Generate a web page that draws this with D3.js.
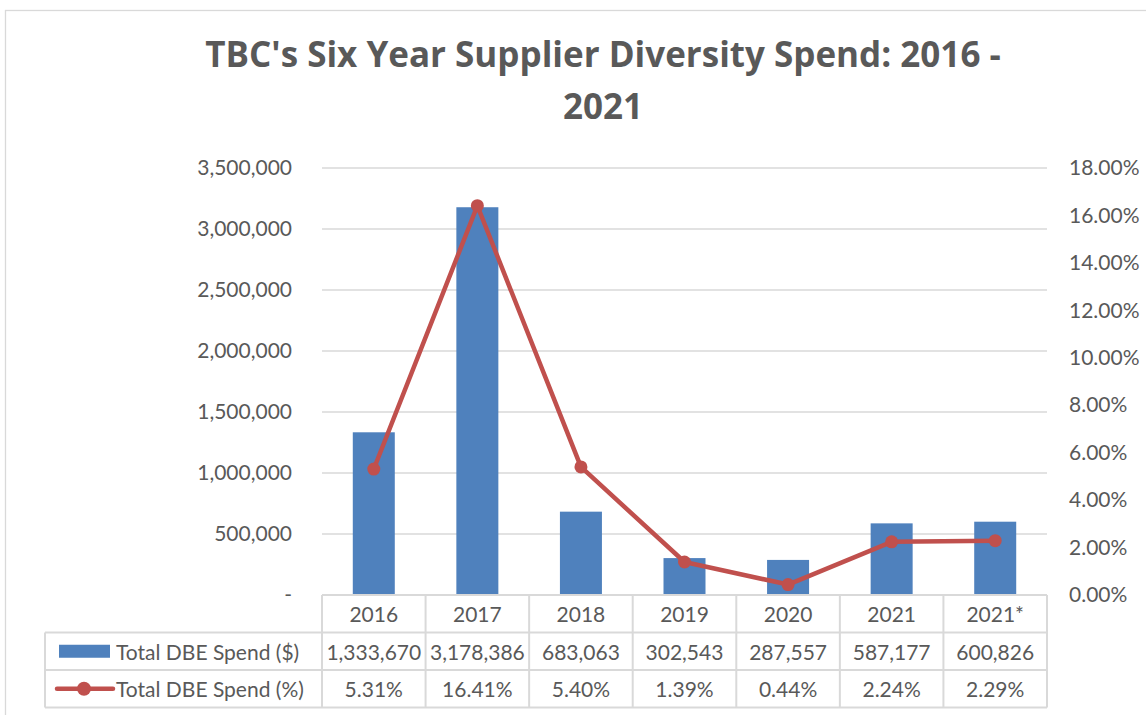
<!DOCTYPE html>
<html><head><meta charset="utf-8">
<script src="https://cdn.jsdelivr.net/npm/d3@7"></script>
<style>body{margin:0;background:#fff;} svg{display:block;}</style>
</head><body>
<svg id="chart" width="1146" height="715"></svg>
<script>
const categories = ["2016","2017","2018","2019","2020","2021","2021*"];
const spendDollars = [1333670,3178386,683063,302543,287557,587177,600826];
const spendPct = [5.31,16.41,5.40,1.39,0.44,2.24,2.29];
const leftTicks = [0,500000,1000000,1500000,2000000,2500000,3000000,3500000];
const rightTicks = [0,2,4,6,8,10,12,14,16,18];
const seriesNames = ["Total DBE Spend ($)","Total DBE Spend (%)"];
const titleLines = ["TBC's Six Year Supplier Diversity Spend: 2016 -","2021"];

const svg = d3.select("#chart");
const font = "Lato, 'Open Sans', sans-serif";
const titleFont = "'Open Sans', Lato, sans-serif";
const fs = 21;
const textCol = "#595959";
const gridCol = "#d9d9d9";
const barCol = "#4F81BD";
const lineCol = "#C0504D";

// outer border
svg.append("rect").attr("x",5.5).attr("y",10.5).attr("width",1150).attr("height",720)
  .attr("fill","none").attr("stroke",gridCol).attr("stroke-width",1.3);

const x0 = 322, x1 = 1047, yTop = 168, yBase = 595;
const x = d3.scaleBand().domain(categories).range([x0,x1]).paddingInner(0).paddingOuter(0);
const yL = d3.scaleLinear().domain([0,3500000]).range([yBase,yTop]);
const yR = d3.scaleLinear().domain([0,18]).range([yBase,yTop]);

// title
svg.append("g").selectAll("text").data(titleLines).join("text")
  .attr("x",603).attr("y",(d,i)=>67+i*52)
  .attr("text-anchor","middle").attr("font-family",titleFont).attr("font-weight","bold")
  .attr("font-size",35).attr("fill",textCol).text(d=>d);

// gridlines
svg.append("g").selectAll("line").data(leftTicks.filter(d=>d>0)).join("line")
  .attr("x1",x0).attr("x2",x1).attr("y1",d=>yL(d)).attr("y2",d=>yL(d))
  .attr("stroke",gridCol).attr("stroke-width",1.3);

// left axis
const fmtL = d3.format(",");
const axL = d3.axisLeft(yL).tickValues(leftTicks).tickSize(0).tickPadding(30)
  .tickFormat(d=> d===0 ? "-" : fmtL(d));
const gL = svg.append("g").attr("transform",`translate(${x0},0)`).call(axL);
gL.select(".domain").remove();
gL.selectAll("text").attr("font-family",font).attr("font-size",fs).attr("fill",textCol);

// right axis
const axR = d3.axisRight(yR).tickValues(rightTicks).tickSize(0).tickPadding(22)
  .tickFormat(d=> d3.format(".2f")(d)+"%");
const gR = svg.append("g").attr("transform",`translate(${x1},0)`).call(axR);
gR.select(".domain").remove();
gR.selectAll("text").attr("font-family",font).attr("font-size",fs).attr("fill",textCol);

// bars
const bw = 42;
svg.append("g").selectAll("rect").data(categories).join("rect")
  .attr("x",d=>x(d)+x.bandwidth()/2-bw/2).attr("width",bw)
  .attr("y",(d,i)=>yL(spendDollars[i])).attr("height",(d,i)=>yBase-yL(spendDollars[i]))
  .attr("fill",barCol);

// line
const line = d3.line().x((d,i)=>x(categories[i])+x.bandwidth()/2).y(d=>yR(d));
svg.append("path").datum(spendPct).attr("d",line).attr("fill","none")
  .attr("stroke",lineCol).attr("stroke-width",4.5).attr("stroke-linejoin","round");
svg.append("g").selectAll("circle").data(spendPct).join("circle")
  .attr("cx",(d,i)=>x(categories[i])+x.bandwidth()/2).attr("cy",d=>yR(d)).attr("r",6.5)
  .attr("fill",lineCol);

// data table
const rowH = 37.5;
const tLeft = 45;
const tg = svg.append("g");
const rows = [yBase, yBase+rowH, yBase+2*rowH, yBase+3*rowH];
tg.append("line").attr("x1",x0).attr("x2",x1).attr("y1",rows[0]).attr("y2",rows[0]).attr("stroke",gridCol).attr("stroke-width",2);
[rows[1],rows[2],rows[3]].forEach(yy=>{
  tg.append("line").attr("x1",tLeft).attr("x2",x1).attr("y1",yy).attr("y2",yy).attr("stroke",gridCol).attr("stroke-width",2);
});
const vx = categories.map(c=>x(c)).concat([x1]);
vx.forEach(xx=>{
  tg.append("line").attr("x1",xx).attr("x2",xx).attr("y1",rows[0]).attr("y2",rows[3]).attr("stroke",gridCol).attr("stroke-width",2);
});
tg.append("line").attr("x1",tLeft).attr("x2",tLeft).attr("y1",rows[1]).attr("y2",rows[3]).attr("stroke",gridCol).attr("stroke-width",2);

const cellText = (txt,cx,cy)=> tg.append("text").attr("x",cx).attr("y",cy).attr("text-anchor","middle")
  .attr("dominant-baseline","central").attr("font-family",font).attr("font-size",fs).attr("fill",textCol).text(txt);
categories.forEach((c,i)=>{
  const cx = x(c)+x.bandwidth()/2;
  cellText(c,cx,rows[0]+rowH/2);
  cellText(fmtL(spendDollars[i]),cx,rows[1]+rowH/2);
  cellText(spendPct[i].toFixed(2)+"%",cx,rows[2]+rowH/2);
});
// legend keys
tg.append("rect").attr("x",59).attr("y",rows[1]+rowH/2-6.5).attr("width",51).attr("height",13).attr("fill",barCol);
tg.append("line").attr("x1",57).attr("x2",113).attr("y1",rows[2]+rowH/2).attr("y2",rows[2]+rowH/2)
  .attr("stroke",lineCol).attr("stroke-width",4.5).attr("stroke-linecap","round");
tg.append("circle").attr("cx",84).attr("cy",rows[2]+rowH/2).attr("r",7).attr("fill",lineCol);
seriesNames.forEach((s,i)=>{
  tg.append("text").attr("x",116).attr("y",rows[1+i]+rowH/2).attr("dominant-baseline","central")
    .attr("font-family",font).attr("font-size",fs).attr("fill",textCol).text(s);
});
</script>
</body></html>
